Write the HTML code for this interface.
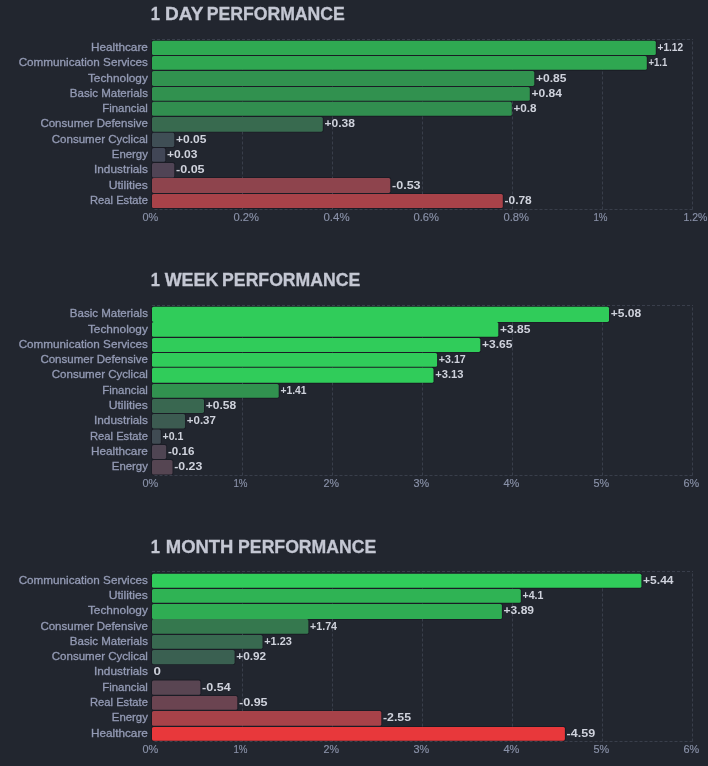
<!DOCTYPE html>
<html><head><meta charset="utf-8"><title>Sector Performance</title>
<style>
html,body{margin:0;padding:0;background:#22262f;}
body{width:708px;height:766px;overflow:hidden;font-family:"Liberation Sans",sans-serif;}
svg{display:block;}
text{font-family:"Liberation Sans",sans-serif;}
.t{font-size:18px;font-weight:bold;fill:#c4c7d3;stroke:#c4c7d3;stroke-width:0.3px;}
.c{font-size:11px;fill:#949bb5;stroke:#949bb5;stroke-width:0.3px;text-anchor:end;}
.k{font-size:11px;fill:#8a92a9;stroke:#8a92a9;stroke-width:0.15px;}
.v{font-size:11px;font-weight:bold;fill:#cfd2dc;}
.g{fill:none;stroke:#393e4b;stroke-width:1;stroke-dasharray:3 2;}
</style></head><body>
<svg width="708" height="766" viewBox="0 0 708 766">
<rect width="708" height="766" fill="#22262f"/>
<g transform="translate(0,0)">
<text class="t" y="20.1"><tspan x="150.7" textLength="9.2" lengthAdjust="spacingAndGlyphs">1</tspan> <tspan x="165.1" textLength="38" lengthAdjust="spacingAndGlyphs">DAY</tspan> <tspan x="206.65" textLength="138.2" lengthAdjust="spacingAndGlyphs">PERFORMANCE</tspan></text>
<g fill="#1a1c25"><rect x="151.1" y="39.86" width="505.6" height="16.03" rx="2.4"/><rect x="151.1" y="55.19" width="496.6" height="15.56" rx="2.4"/><rect x="151.1" y="70.05" width="384.1" height="16.75" rx="2.4"/><rect x="151.1" y="86.1" width="379.6" height="15.55" rx="2.4"/><rect x="151.1" y="100.95" width="361.6" height="15.8" rx="2.4"/><rect x="151.1" y="116.05" width="172.6" height="16.55" rx="2.4"/><rect x="151.1" y="131.9" width="24.1" height="15.91" rx="2.4"/><rect x="151.1" y="147.11" width="15.1" height="15.6" rx="2.4"/><rect x="151.1" y="162.01" width="24.1" height="16.38" rx="2.4"/><rect x="151.1" y="177.09" width="240.1" height="16.7" rx="2.4"/><rect x="151.1" y="193.09" width="352.6" height="15.81" rx="2.4"/></g>
<g>
<path class="g" d="M152 39.5H693M692.5 209.5H152.5M242.5 209.5V39.5M332.5 209.5V39.5M422.5 209.5V39.5M512.5 209.5V39.5M602.5 209.5V39.5M692.5 209.5V39.5"/>
<text class="k" x="142.4" y="220.9" textLength="15.8" lengthAdjust="spacingAndGlyphs">0%</text>
<text class="k" x="233.5" y="220.9" textLength="25.5" lengthAdjust="spacingAndGlyphs">0.2%</text>
<text class="k" x="323.5" y="220.9" textLength="26.1" lengthAdjust="spacingAndGlyphs">0.4%</text>
<text class="k" x="413.5" y="220.9" textLength="25.5" lengthAdjust="spacingAndGlyphs">0.6%</text>
<text class="k" x="503.5" y="220.9" textLength="25.5" lengthAdjust="spacingAndGlyphs">0.8%</text>
<text class="k" x="593.4" y="220.9" textLength="14.1" lengthAdjust="spacingAndGlyphs">1%</text>
<text class="k" x="683.4" y="220.9" textLength="23.9" lengthAdjust="spacingAndGlyphs">1.2%</text>
</g>
<rect x="152" y="40.76" width="503.8" height="14.23" rx="1.6" fill="#2fa952"/>
<rect x="152" y="56.09" width="494.8" height="13.76" rx="1.6" fill="#2fa751"/>
<rect x="152" y="70.95" width="382.3" height="14.95" rx="1.6" fill="#31924f"/>
<rect x="152" y="87" width="377.8" height="13.75" rx="1.6" fill="#31914f"/>
<rect x="152" y="101.85" width="359.8" height="14" rx="1.6" fill="#318e4f"/>
<rect x="152" y="116.95" width="170.8" height="14.75" rx="1.6" fill="#386a4f"/>
<rect x="152" y="132.8" width="22.3" height="14.11" rx="1.6" fill="#3f4e55"/>
<rect x="152" y="148.01" width="13.3" height="13.8" rx="1.6" fill="#414656"/>
<rect x="152" y="162.91" width="22.3" height="14.58" rx="1.6" fill="#504455"/>
<rect x="152" y="177.99" width="238.3" height="14.9" rx="1.6" fill="#8e444d"/>
<rect x="152" y="193.99" width="350.8" height="14.01" rx="1.6" fill="#a84249"/>
<text class="c" x="147.9" y="50.98" textLength="57" lengthAdjust="spacingAndGlyphs">Healthcare</text>
<text class="v" x="657.5" y="50.98" textLength="25.6" lengthAdjust="spacingAndGlyphs">+1.12</text>
<text class="c" x="147.9" y="66.07" textLength="129.2" lengthAdjust="spacingAndGlyphs">Communication Services</text>
<text class="v" x="648.5" y="66.07" textLength="18.8" lengthAdjust="spacingAndGlyphs">+1.1</text>
<text class="c" x="147.9" y="81.53" textLength="60" lengthAdjust="spacingAndGlyphs">Technology</text>
<text class="v" x="536" y="81.53" textLength="30.45" lengthAdjust="spacingAndGlyphs">+0.85</text>
<text class="c" x="147.9" y="96.97" textLength="78.1" lengthAdjust="spacingAndGlyphs">Basic Materials</text>
<text class="v" x="531.5" y="96.97" textLength="30.45" lengthAdjust="spacingAndGlyphs">+0.84</text>
<text class="c" x="147.9" y="111.95" textLength="45.6" lengthAdjust="spacingAndGlyphs">Financial</text>
<text class="v" x="513.5" y="111.95" textLength="23.1" lengthAdjust="spacingAndGlyphs">+0.8</text>
<text class="c" x="147.9" y="127.42" textLength="107.5" lengthAdjust="spacingAndGlyphs">Consumer Defensive</text>
<text class="v" x="324.5" y="127.42" textLength="30.45" lengthAdjust="spacingAndGlyphs">+0.38</text>
<text class="c" x="147.9" y="142.96" textLength="96.1" lengthAdjust="spacingAndGlyphs">Consumer Cyclical</text>
<text class="v" x="176" y="142.96" textLength="30.45" lengthAdjust="spacingAndGlyphs">+0.05</text>
<text class="c" x="147.9" y="158.01" textLength="36.1" lengthAdjust="spacingAndGlyphs">Energy</text>
<text class="v" x="167" y="158.01" textLength="30.45" lengthAdjust="spacingAndGlyphs">+0.03</text>
<text class="c" x="147.9" y="173.15" textLength="53.9" lengthAdjust="spacingAndGlyphs">Industrials</text>
<text class="v" x="176" y="173.15" textLength="28.6" lengthAdjust="spacingAndGlyphs">-0.05</text>
<text class="c" x="147.9" y="188.69" textLength="39.2" lengthAdjust="spacingAndGlyphs">Utilities</text>
<text class="v" x="392" y="188.69" textLength="28.6" lengthAdjust="spacingAndGlyphs">-0.53</text>
<text class="c" x="147.9" y="204.09" textLength="57.9" lengthAdjust="spacingAndGlyphs">Real Estate</text>
<text class="v" x="504.5" y="204.09" textLength="27.25" lengthAdjust="spacingAndGlyphs">-0.78</text>
</g>
<g transform="translate(0,266)">
<text class="t" y="20.1"><tspan x="150.7" textLength="9.2" lengthAdjust="spacingAndGlyphs">1</tspan> <tspan x="164.7" textLength="53.8" lengthAdjust="spacingAndGlyphs">WEEK</tspan> <tspan x="222.1" textLength="138.2" lengthAdjust="spacingAndGlyphs">PERFORMANCE</tspan></text>
<g fill="#1a1c25"><rect x="151.1" y="39.86" width="458.8" height="16.94" rx="2.4"/><rect x="151.1" y="55" width="348.1" height="16.75" rx="2.4"/><rect x="151.1" y="71.05" width="330.1" height="15.75" rx="2.4"/><rect x="151.1" y="86.1" width="286.9" height="15.55" rx="2.4"/><rect x="151.1" y="100.95" width="283.3" height="16.78" rx="2.4"/><rect x="151.1" y="117.03" width="128.5" height="15.74" rx="2.4"/><rect x="151.1" y="132.07" width="53.8" height="15.74" rx="2.4"/><rect x="151.1" y="147.11" width="34.9" height="16.19" rx="2.4"/><rect x="151.1" y="162.6" width="10.6" height="16.15" rx="2.4"/><rect x="151.1" y="178.05" width="16" height="15.74" rx="2.4"/><rect x="151.1" y="193.09" width="22.3" height="16.31" rx="2.4"/></g>
<g>
<path class="g" d="M152 39.5H693M692.5 209.5H152.5M242.5 209.5V39.5M332.5 209.5V39.5M422.5 209.5V39.5M512.5 209.5V39.5M602.5 209.5V39.5M692.5 209.5V39.5"/>
<text class="k" x="142.4" y="220.9" textLength="15.8" lengthAdjust="spacingAndGlyphs">0%</text>
<text class="k" x="233.4" y="220.9" textLength="14.1" lengthAdjust="spacingAndGlyphs">1%</text>
<text class="k" x="323.5" y="220.9" textLength="15.5" lengthAdjust="spacingAndGlyphs">2%</text>
<text class="k" x="413.5" y="220.9" textLength="15.7" lengthAdjust="spacingAndGlyphs">3%</text>
<text class="k" x="503.5" y="220.9" textLength="15.9" lengthAdjust="spacingAndGlyphs">4%</text>
<text class="k" x="593.5" y="220.9" textLength="15.7" lengthAdjust="spacingAndGlyphs">5%</text>
<text class="k" x="683.5" y="220.9" textLength="15.7" lengthAdjust="spacingAndGlyphs">6%</text>
</g>
<rect x="152" y="40.76" width="457" height="15.14" rx="1.6" fill="#30cc5a"/>
<rect x="152" y="55.9" width="346.3" height="14.95" rx="1.6" fill="#30cc5a"/>
<rect x="152" y="71.95" width="328.3" height="13.95" rx="1.6" fill="#30cc5a"/>
<rect x="152" y="87" width="285.1" height="13.75" rx="1.6" fill="#30cc5a"/>
<rect x="152" y="101.85" width="281.5" height="14.98" rx="1.6" fill="#30cc5a"/>
<rect x="152" y="117.93" width="126.7" height="13.94" rx="1.6" fill="#31924f"/>
<rect x="152" y="132.97" width="52" height="13.94" rx="1.6" fill="#396750"/>
<rect x="152" y="148.01" width="33.1" height="14.39" rx="1.6" fill="#3c5b51"/>
<rect x="152" y="163.5" width="8.8" height="14.35" rx="1.6" fill="#404b53"/>
<rect x="152" y="178.95" width="14.2" height="13.94" rx="1.6" fill="#4f4553"/>
<rect x="152" y="193.99" width="20.5" height="14.51" rx="1.6" fill="#554552"/>
<text class="c" x="147.9" y="51.16" textLength="78.1" lengthAdjust="spacingAndGlyphs">Basic Materials</text>
<text class="v" x="610.7" y="51.16" textLength="30.45" lengthAdjust="spacingAndGlyphs">+5.08</text>
<text class="c" x="147.9" y="66.75" textLength="60" lengthAdjust="spacingAndGlyphs">Technology</text>
<text class="v" x="500" y="66.75" textLength="30.45" lengthAdjust="spacingAndGlyphs">+3.85</text>
<text class="c" x="147.9" y="82.03" textLength="129.2" lengthAdjust="spacingAndGlyphs">Communication Services</text>
<text class="v" x="482" y="82.03" textLength="30.45" lengthAdjust="spacingAndGlyphs">+3.65</text>
<text class="c" x="147.9" y="96.97" textLength="107.5" lengthAdjust="spacingAndGlyphs">Consumer Defensive</text>
<text class="v" x="438.8" y="96.97" textLength="26.95" lengthAdjust="spacingAndGlyphs">+3.17</text>
<text class="c" x="147.9" y="112.44" textLength="96.1" lengthAdjust="spacingAndGlyphs">Consumer Cyclical</text>
<text class="v" x="435.2" y="112.44" textLength="28.3" lengthAdjust="spacingAndGlyphs">+3.13</text>
<text class="c" x="147.9" y="128" textLength="45.6" lengthAdjust="spacingAndGlyphs">Financial</text>
<text class="v" x="280.4" y="128" textLength="26.15" lengthAdjust="spacingAndGlyphs">+1.41</text>
<text class="c" x="147.9" y="143.04" textLength="39.2" lengthAdjust="spacingAndGlyphs">Utilities</text>
<text class="v" x="205.7" y="143.04" textLength="30.45" lengthAdjust="spacingAndGlyphs">+0.58</text>
<text class="c" x="147.9" y="158.3" textLength="53.9" lengthAdjust="spacingAndGlyphs">Industrials</text>
<text class="v" x="186.8" y="158.3" textLength="29.1" lengthAdjust="spacingAndGlyphs">+0.37</text>
<text class="c" x="147.9" y="173.78" textLength="57.9" lengthAdjust="spacingAndGlyphs">Real Estate</text>
<text class="v" x="162.5" y="173.78" textLength="20.95" lengthAdjust="spacingAndGlyphs">+0.1</text>
<text class="c" x="147.9" y="189.02" textLength="57" lengthAdjust="spacingAndGlyphs">Healthcare</text>
<text class="v" x="167.9" y="189.02" textLength="26.45" lengthAdjust="spacingAndGlyphs">-0.16</text>
<text class="c" x="147.9" y="204.34" textLength="36.1" lengthAdjust="spacingAndGlyphs">Energy</text>
<text class="v" x="174.2" y="204.34" textLength="28.05" lengthAdjust="spacingAndGlyphs">-0.23</text>
</g>
<g transform="translate(0,533)">
<text class="t" y="20.1"><tspan x="150.7" textLength="9.2" lengthAdjust="spacingAndGlyphs">1</tspan> <tspan x="165.8" textLength="67.6" lengthAdjust="spacingAndGlyphs">MONTH</tspan> <tspan x="238.1" textLength="138.2" lengthAdjust="spacingAndGlyphs">PERFORMANCE</tspan></text>
<g fill="#1a1c25"><rect x="151.1" y="39.86" width="491.2" height="15.87" rx="2.4"/><rect x="151.1" y="55.03" width="370.6" height="15.74" rx="2.4"/><rect x="151.1" y="70.07" width="351.7" height="16.95" rx="2.4"/><rect x="151.1" y="85.22" width="158.2" height="16.47" rx="2.4"/><rect x="151.1" y="100.99" width="112.3" height="15.74" rx="2.4"/><rect x="151.1" y="116.03" width="84.4" height="16.02" rx="2.4"/><rect x="151.1" y="146.6" width="50.2" height="16.11" rx="2.4"/><rect x="151.1" y="162.01" width="87.1" height="15.74" rx="2.4"/><rect x="151.1" y="177.05" width="231.1" height="16.65" rx="2.4"/><rect x="151.1" y="193" width="414.7" height="15.6" rx="2.4"/></g>
<g transform="translate(0,-1)">
<path class="g" d="M152 39.5H693M692.5 209.5H152.5M242.5 209.5V39.5M332.5 209.5V39.5M422.5 209.5V39.5M512.5 209.5V39.5M602.5 209.5V39.5M692.5 209.5V39.5"/>
<text class="k" x="142.4" y="220.9" textLength="15.8" lengthAdjust="spacingAndGlyphs">0%</text>
<text class="k" x="233.4" y="220.9" textLength="14.1" lengthAdjust="spacingAndGlyphs">1%</text>
<text class="k" x="323.5" y="220.9" textLength="15.5" lengthAdjust="spacingAndGlyphs">2%</text>
<text class="k" x="413.5" y="220.9" textLength="15.7" lengthAdjust="spacingAndGlyphs">3%</text>
<text class="k" x="503.5" y="220.9" textLength="15.9" lengthAdjust="spacingAndGlyphs">4%</text>
<text class="k" x="593.5" y="220.9" textLength="15.7" lengthAdjust="spacingAndGlyphs">5%</text>
<text class="k" x="683.5" y="220.9" textLength="15.7" lengthAdjust="spacingAndGlyphs">6%</text>
</g>
<rect x="152" y="40.76" width="489.4" height="14.07" rx="1.6" fill="#30cc5a"/>
<rect x="152" y="55.93" width="368.8" height="13.94" rx="1.6" fill="#2fb354"/>
<rect x="152" y="70.97" width="349.9" height="15.15" rx="1.6" fill="#2fad53"/>
<rect x="152" y="86.12" width="156.4" height="14.67" rx="1.6" fill="#35784e"/>
<rect x="152" y="101.89" width="110.5" height="13.94" rx="1.6" fill="#386950"/>
<rect x="152" y="116.93" width="82.6" height="14.22" rx="1.6" fill="#3a6051"/>
<rect x="152" y="147.5" width="48.4" height="14.31" rx="1.6" fill="#594552"/>
<rect x="152" y="162.91" width="85.3" height="13.94" rx="1.6" fill="#6b4451"/>
<rect x="152" y="177.95" width="229.3" height="14.85" rx="1.6" fill="#a74249"/>
<rect x="152" y="193.9" width="412.9" height="13.8" rx="1.6" fill="#e8383b"/>
<text class="c" x="147.9" y="50.9" textLength="129.2" lengthAdjust="spacingAndGlyphs">Communication Services</text>
<text class="v" x="643.1" y="50.9" textLength="30.45" lengthAdjust="spacingAndGlyphs">+5.44</text>
<text class="c" x="147.9" y="66" textLength="39.2" lengthAdjust="spacingAndGlyphs">Utilities</text>
<text class="v" x="522.5" y="66" textLength="20.95" lengthAdjust="spacingAndGlyphs">+4.1</text>
<text class="c" x="147.9" y="81.37" textLength="60" lengthAdjust="spacingAndGlyphs">Technology</text>
<text class="v" x="503.6" y="81.37" textLength="30.45" lengthAdjust="spacingAndGlyphs">+3.89</text>
<text class="c" x="147.9" y="96.83" textLength="107.5" lengthAdjust="spacingAndGlyphs">Consumer Defensive</text>
<text class="v" x="310.1" y="96.83" textLength="26.95" lengthAdjust="spacingAndGlyphs">+1.74</text>
<text class="c" x="147.9" y="111.96" textLength="78.1" lengthAdjust="spacingAndGlyphs">Basic Materials</text>
<text class="v" x="264.2" y="111.96" textLength="27.75" lengthAdjust="spacingAndGlyphs">+1.23</text>
<text class="c" x="147.9" y="127.14" textLength="96.1" lengthAdjust="spacingAndGlyphs">Consumer Cyclical</text>
<text class="v" x="236.3" y="127.14" textLength="29.9" lengthAdjust="spacingAndGlyphs">+0.92</text>
<text class="c" x="147.9" y="142.42" textLength="53.9" lengthAdjust="spacingAndGlyphs">Industrials</text>
<text class="v" x="153.5" y="142.42" textLength="7.4" lengthAdjust="spacingAndGlyphs">0</text>
<text class="c" x="147.9" y="157.75" textLength="45.6" lengthAdjust="spacingAndGlyphs">Financial</text>
<text class="v" x="202.1" y="157.75" textLength="28.6" lengthAdjust="spacingAndGlyphs">-0.54</text>
<text class="c" x="147.9" y="172.98" textLength="57.9" lengthAdjust="spacingAndGlyphs">Real Estate</text>
<text class="v" x="239" y="172.98" textLength="28.6" lengthAdjust="spacingAndGlyphs">-0.95</text>
<text class="c" x="147.9" y="188.47" textLength="36.1" lengthAdjust="spacingAndGlyphs">Energy</text>
<text class="v" x="383" y="188.47" textLength="28.05" lengthAdjust="spacingAndGlyphs">-2.55</text>
<text class="c" x="147.9" y="203.9" textLength="57" lengthAdjust="spacingAndGlyphs">Healthcare</text>
<text class="v" x="566.6" y="203.9" textLength="28.6" lengthAdjust="spacingAndGlyphs">-4.59</text>
</g>
</svg>
</body></html>
